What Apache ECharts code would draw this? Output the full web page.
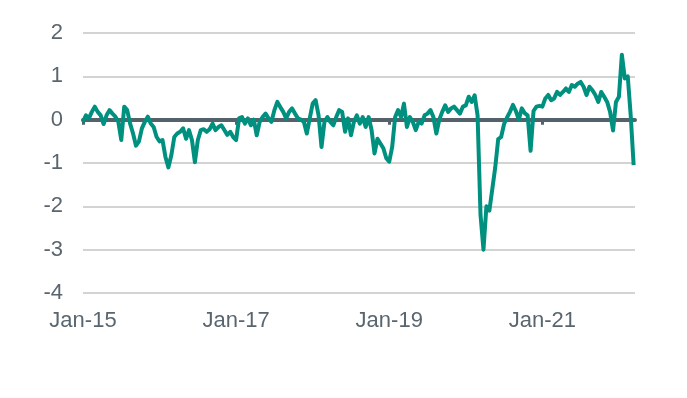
<!DOCTYPE html>
<html>
<head>
<meta charset="utf-8">
<script src="https://cdn.jsdelivr.net/npm/echarts@6/dist/echarts.min.js"></script>
<style>
    html, body { margin: 0; padding: 0; background: #fff; }
    #chartContainer { width: 687px; height: 398px; }
</style>
</head>
<body>
<div id="chartContainer"></div>
<script>
// fortnightly readings, 26 per year
var v2015 = [-0.05, 0.1, 0.03, 0.18, 0.3, 0.18, 0.1, -0.1, 0.1, 0.22, 0.14, 0.07, -0.05,
    -0.47, 0.3, 0.22, -0.09, -0.32, -0.6, -0.5, -0.2, -0.05, 0.07, -0.09, -0.17, -0.4];
var v2016 = [-0.5, -0.47, -0.86, -1.1, -0.82, -0.4, -0.32, -0.28, -0.2, -0.44, -0.24, -0.47, -0.98,
    -0.47, -0.24, -0.22, -0.28, -0.22, -0.09, -0.24, -0.17, -0.13, -0.24, -0.35, -0.28, -0.4];
var v2017 = [-0.47, 0.03, 0.06, -0.09, 0.03, -0.13, 0, -0.36, -0.05, 0.06, 0.14, 0.03, -0.05,
    0.22, 0.41, 0.29, 0.18, 0.03, 0.18, 0.26, 0.14, 0.03, 0, -0.05, -0.32, 0.03];
var v2018 = [0.37, 0.45, 0.1, -0.63, -0.05, 0.06, -0.05, -0.13, 0.06, 0.22, 0.18, -0.28, 0.03,
    -0.36, -0.05, 0.1, -0.09, 0.06, -0.17, 0.06, -0.24, -0.78, -0.44, -0.55, -0.66, -0.89];
var v2019 = [-0.97, -0.63, 0.06, 0.22, 0.06, 0.37, -0.17, 0.06, -0.05, -0.24, -0.05, -0.09, 0.1,
    0.14, 0.22, 0.06, -0.32, 0, 0.18, 0.33, 0.18, 0.26, 0.3, 0.22, 0.14, 0.3];
var v2020 = [0.33, 0.53, 0.41, 0.56, 0.1, -2.2, -3.0, -2.0, -2.1, -1.6, -1.1, -0.45, -0.4,
    -0.1, 0.05, 0.18, 0.34, 0.2, 0.0, 0.26, 0.15, 0.1, -0.72, 0.2, 0.3, 0.32];
var v2021 = [0.3, 0.49, 0.57, 0.45, 0.49, 0.64, 0.57, 0.64, 0.72, 0.64, 0.8, 0.76, 0.83,
    0.87, 0.76, 0.57, 0.76, 0.68, 0.57, 0.41, 0.64, 0.53, 0.41, 0.18, -0.25, 0.41];
var v2022 = [0.53, 1.5, 0.95, 1.0, 0.1, -1.05];

var years = [2015, 2016, 2017, 2018, 2019, 2020, 2021, 2022];
var yearValues = [v2015, v2016, v2017, v2018, v2019, v2020, v2021, v2022];
var labelYears = [2015, 2017, 2019, 2021];

function SetSeriesChart() {
    var dom = document.getElementById('chartContainer');
    var myChart = echarts.init(dom, null, { renderer: 'canvas' });

    var seriesData = [];
    for (var y = 0; y < years.length; y++) {
        for (var i = 0; i < yearValues[y].length; i++) {
            seriesData.push([years[y] + i / 26, yearValues[y][i]]);
        }
    }

    var labelColor = '#5a666f';
    var option = {
        animation: false,
        grid: { left: 83, right: 52, top: 33, bottom: 105 },
        xAxis: [
            {
                type: 'value',
                min: 2015,
                max: 2022.21,
                interval: 2,
                axisLine: { show: false, onZero: false },
                axisTick: { show: false },
                splitLine: { show: false },
                axisLabel: {
                    customValues: labelYears,
                    color: labelColor,
                    fontSize: 22,
                    fontFamily: 'Arial, "Liberation Sans", sans-serif',
                    margin: 17,
                    formatter: function (value) {
                        return 'Jan-' + String(value).slice(2);
                    }
                }
            },
            {
                // zero line with small ticks
                type: 'value',
                position: 'bottom',
                min: 2015,
                max: 2022.21,
                interval: 2,
                axisLine: { show: true, onZero: true, lineStyle: { color: '#56626b', width: 4 } },
                axisTick: { show: true, customValues: labelYears, length: 5, lineStyle: { color: '#56626b', width: 3 } },
                axisLabel: { show: false },
                splitLine: { show: false }
            }
        ],
        yAxis: {
            type: 'value',
            min: -4,
            max: 2,
            interval: 1,
            axisLine: { show: false },
            axisTick: { show: false },
            splitLine: { show: true, lineStyle: { color: '#d3d3d3', width: 2 } },
            axisLabel: {
                color: labelColor,
                fontSize: 22,
                fontFamily: 'Arial, "Liberation Sans", sans-serif',
                margin: 20
            }
        },
        series: [
            {
                type: 'line',
                xAxisIndex: 0,
                showSymbol: false,
                data: seriesData,
                lineStyle: { color: '#00907f', width: 4, join: 'round' },
                z: 5
            }
        ]
    };

    myChart.setOption(option);
    window.addEventListener('resize', myChart.resize);
}

SetSeriesChart();
</script>
</body>
</html>
